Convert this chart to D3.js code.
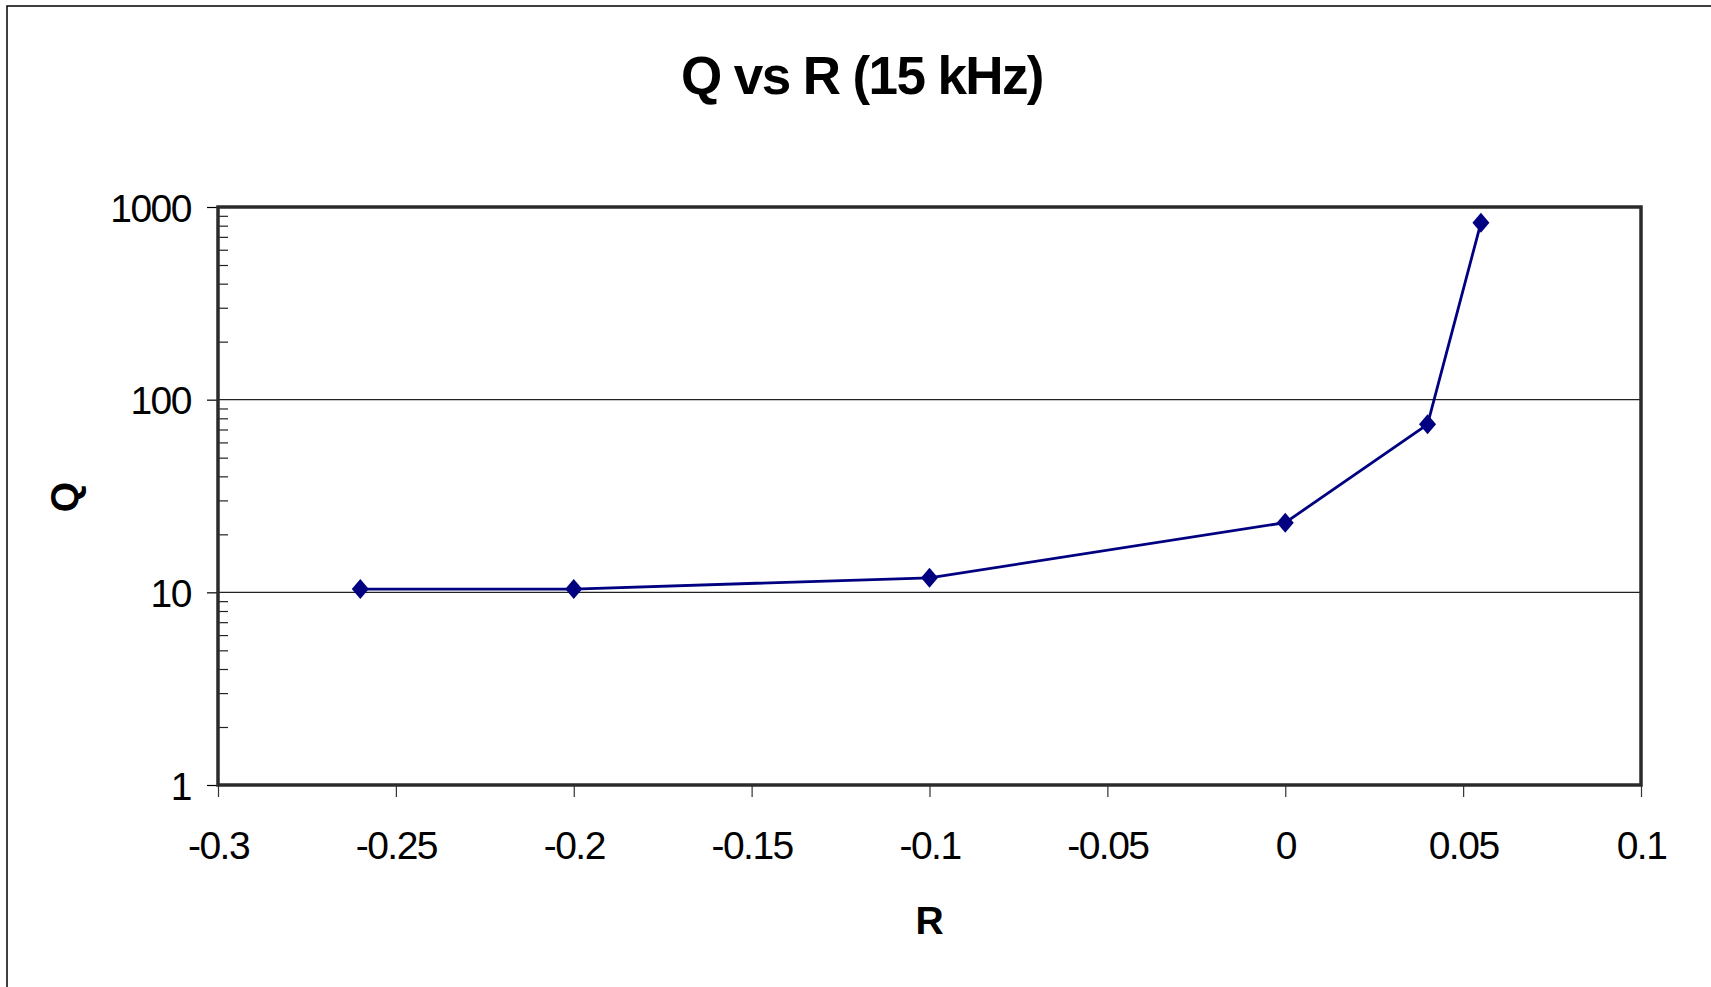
<!DOCTYPE html>
<html>
<head>
<meta charset="utf-8">
<script src="https://cdn.jsdelivr.net/npm/d3@7"></script>
<style>
  html, body { margin: 0; padding: 0; background: #fff; }
  svg { display: block; font-family: "Liberation Sans", Arial, sans-serif; }
</style>
</head>
<body>
<svg id="chart" width="1711" height="987"></svg>
<script>
// Q measured against R at 15 kHz
const rValues = [-0.26, -0.2, -0.1, 0, 0.04, 0.055];
const qValues = [10.4, 10.4, 11.9, 23, 74.5, 828];

const xTickValues = [-0.3, -0.25, -0.2, -0.15, -0.1, -0.05, 0, 0.05, 0.1];
const xTickLabels = ["-0.3", "-0.25", "-0.2", "-0.15", "-0.1", "-0.05", "0", "0.05", "0.1"];
const yTickValues = [1, 10, 100, 1000];
const yTickLabels = ["1", "10", "100", "1000"];
const yGridValues = [10, 100];

const titleText = "Q vs R (15 kHz)";
const xTitle = "R";
const yTitle = "Q";

const svg = d3.select("#chart");
const plot = { left: 218, right: 1641, top: 207, bottom: 785 };

const x = d3.scaleLinear().domain([-0.3, 0.1]).range([plot.left, plot.right]);
const y = d3.scaleLog().domain([1, 1000]).range([plot.bottom, plot.top]);

// outer chart-area frame (runs off the right and bottom edges)
svg.append("rect")
  .attr("x", 7).attr("y", 6)
  .attr("width", 1740).attr("height", 1020)
  .attr("fill", "#fff").attr("stroke", "#000").attr("stroke-width", 1.5);

// title
svg.append("text")
  .attr("x", 862).attr("y", 94)
  .attr("text-anchor", "middle")
  .attr("font-weight", "bold")
  .attr("font-size", 53)
  .attr("letter-spacing", -1.6)
  .text(titleText);

// horizontal gridlines at the decades
svg.append("g").selectAll("line")
  .data(yGridValues).join("line")
  .attr("x1", plot.left).attr("x2", plot.right)
  .attr("y1", d => y(d)).attr("y2", d => y(d))
  .attr("stroke", "#222").attr("stroke-width", 1.2);

// minor log ticks inside the left axis
const minorTicks = [];
[1, 10, 100].forEach(dec => { for (let k = 2; k <= 9; k++) minorTicks.push(dec * k); });
const minorAxis = svg.append("g")
  .attr("transform", `translate(${plot.left},0)`)
  .call(d3.axisRight(y).tickValues(minorTicks).tickSize(10).tickFormat(""));
minorAxis.select(".domain").remove();
minorAxis.selectAll(".tick line").attr("stroke", "#222").attr("stroke-width", 1.2);

// y axis with major ticks and labels
const yAxis = svg.append("g")
  .attr("transform", `translate(${plot.left},0)`)
  .call(d3.axisLeft(y).tickValues(yTickValues).tickSize(11).tickPadding(16)
    .tickFormat((d, i) => yTickLabels[i]));
yAxis.select(".domain").remove();
yAxis.selectAll(".tick line").attr("stroke", "#000").attr("stroke-width", 1.2);
yAxis.selectAll(".tick text")
  .attr("font-size", 39).attr("letter-spacing", -1.5)
  .attr("fill", "#000").attr("font-family", "Liberation Sans, Arial, sans-serif")
  .attr("dy", "0.36em");

// x axis
const xAxis = svg.append("g")
  .attr("transform", `translate(0,${plot.bottom})`)
  .call(d3.axisBottom(x).tickValues(xTickValues).tickSize(12).tickPadding(34)
    .tickFormat((d, i) => xTickLabels[i]));
xAxis.select(".domain").remove();
xAxis.selectAll(".tick line").attr("stroke", "#333").attr("stroke-width", 1.2);
xAxis.selectAll(".tick text")
  .attr("font-size", 39).attr("letter-spacing", -1.5)
  .attr("fill", "#000").attr("font-family", "Liberation Sans, Arial, sans-serif")
  .attr("dy", "0.71em");

// plot area frame
svg.append("rect")
  .attr("x", plot.left).attr("y", plot.top)
  .attr("width", plot.right - plot.left).attr("height", plot.bottom - plot.top)
  .attr("fill", "none").attr("stroke", "#2b2b2b").attr("stroke-width", 3.5);

// axis titles
svg.append("text")
  .attr("x", x(-0.1)).attr("y", 934)
  .attr("text-anchor", "middle")
  .attr("font-weight", "bold").attr("font-size", 39)
  .text(xTitle);

svg.append("text")
  .attr("transform", "translate(78,497) rotate(-90)")
  .attr("text-anchor", "middle")
  .attr("font-weight", "bold").attr("font-size", 39)
  .text(yTitle);

// series
const points = rValues.map((r, i) => ({ r, q: qValues[i] }));
const navy = "#000080";

svg.append("path")
  .datum(points)
  .attr("fill", "none")
  .attr("stroke", navy)
  .attr("stroke-width", 2.8)
  .attr("d", d3.line().x(d => x(d.r)).y(d => y(d.q)));

svg.append("g").selectAll("path")
  .data(points).join("path")
  .attr("transform", d => `translate(${x(d.r)},${y(d.q)})`)
  .attr("d", "M0,-10L8.5,0L0,10L-8.5,0Z")
  .attr("fill", navy);
</script>
</body>
</html>
